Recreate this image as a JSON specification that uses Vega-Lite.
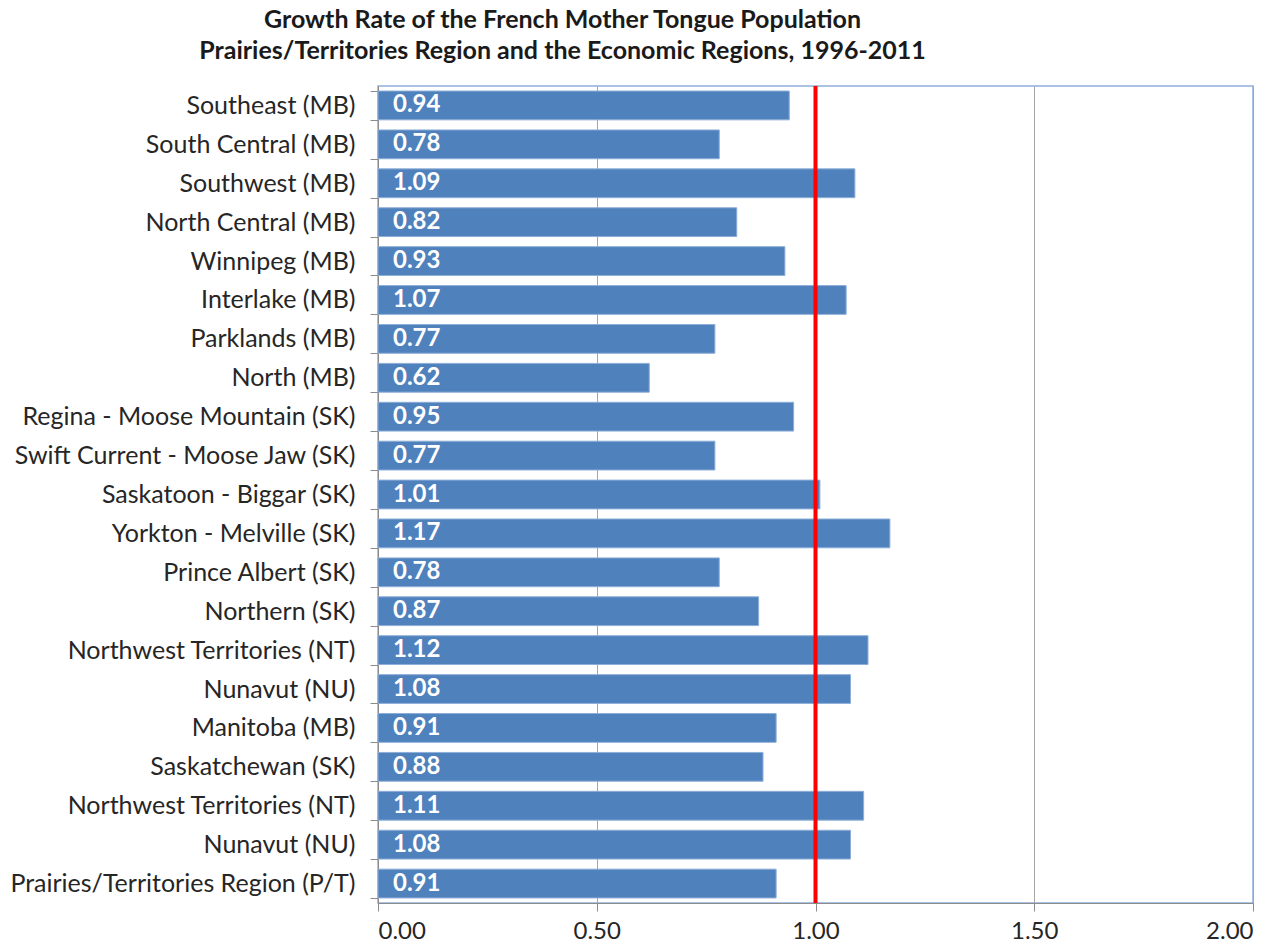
{
  "$schema": "https://vega.github.io/schema/vega-lite/v6.json",
  "width": 875,
  "height": 817,
  "autosize": {"type": "none"},
  "padding": {"left": 378, "top": 86, "right": 24, "bottom": 47},
  "background": "#ffffff",
  "config": {
    "font": "Lato",
    "view": {"stroke": "#8EB0DC", "strokeWidth": 1.5}
  },
  "title": {
    "text": [
      "Growth Rate of the French Mother Tongue Population",
      "Prairies/Territories Region and the Economic Regions, 1996-2011"
    ],
    "anchor": "middle",
    "dx": -253,
    "offset": 10,
    "font": "Lato",
    "fontSize": 25,
    "fontWeight": "bold",
    "lineHeight": 31,
    "color": "#1a1a1a"
  },
  "data": {
    "values": [
      {"key": "Southeast (MB)|1", "rate": 0.94},
      {"key": "South Central (MB)|2", "rate": 0.78},
      {"key": "Southwest (MB)|3", "rate": 1.09},
      {"key": "North Central (MB)|4", "rate": 0.82},
      {"key": "Winnipeg (MB)|5", "rate": 0.93},
      {"key": "Interlake (MB)|6", "rate": 1.07},
      {"key": "Parklands (MB)|7", "rate": 0.77},
      {"key": "North (MB)|8", "rate": 0.62},
      {"key": "Regina - Moose Mountain (SK)|9", "rate": 0.95},
      {"key": "Swift Current - Moose Jaw (SK)|10", "rate": 0.77},
      {"key": "Saskatoon - Biggar (SK)|11", "rate": 1.01},
      {"key": "Yorkton - Melville (SK)|12", "rate": 1.17},
      {"key": "Prince Albert (SK)|13", "rate": 0.78},
      {"key": "Northern (SK)|14", "rate": 0.87},
      {"key": "Northwest Territories (NT)|15", "rate": 1.12},
      {"key": "Nunavut (NU)|16", "rate": 1.08},
      {"key": "Manitoba (MB)|17", "rate": 0.91},
      {"key": "Saskatchewan (SK)|18", "rate": 0.88},
      {"key": "Northwest Territories (NT)|19", "rate": 1.11},
      {"key": "Nunavut (NU)|20", "rate": 1.08},
      {"key": "Prairies/Territories Region (P/T)|21", "rate": 0.91}
    ]
  },
  "layer": [
    {
      "mark": {"type": "bar", "color": "#4F81BD", "stroke": "#8DAED8", "strokeWidth": 1},
      "encoding": {
        "y": {
          "field": "key",
          "type": "nominal",
          "sort": null,
          "scale": {"paddingInner": 0.26, "paddingOuter": 0.13},
          "axis": {
            "title": null,
            "labelExpr": "isString(datum.value) ? split(datum.value, '|')[0] : ''",
            "labelFont": "Lato",
            "labelFontSize": 25,
            "labelLimit": 0,
            "labelColor": "#262626",
            "labelPadding": 15,
            "tickBand": "extent",
            "tickSize": 8,
            "tickColor": "#8c8c8c",
            "domainColor": "#8c8c8c",
            "grid": false
          }
        },
        "x": {
          "field": "rate",
          "type": "quantitative",
          "scale": {"domain": [0, 2], "nice": false},
          "axis": {
            "title": null,
            "values": [0, 0.5, 1, 1.5, 2],
            "format": ".2f",
            "labelFont": "Lato",
            "labelFontSize": 24,
            "labelColor": "#262626",
            "labelPadding": 8,
            "tickSize": 8,
            "tickColor": "#8c8c8c",
            "domainColor": "#8c8c8c",
            "grid": true,
            "gridColor": "#a6a6a6",
            "gridWidth": 1
          }
        }
      }
    },
    {
      "mark": {
        "type": "text",
        "align": "left",
        "baseline": "middle",
        "dx": 15,
        "font": "Lato",
        "fontSize": 24,
        "fontWeight": "bold",
        "color": "#ffffff"
      },
      "encoding": {
        "y": {"field": "key", "type": "nominal", "sort": null},
        "x": {"datum": 0, "type": "quantitative"},
        "text": {"field": "rate", "type": "quantitative", "format": ".2f"}
      }
    },
    {
      "data": {"values": [{"threshold": 1}]},
      "mark": {"type": "rule", "color": "#ff0000", "strokeWidth": 4},
      "encoding": {
        "x": {"field": "threshold", "type": "quantitative"}
      }
    }
  ]
}
